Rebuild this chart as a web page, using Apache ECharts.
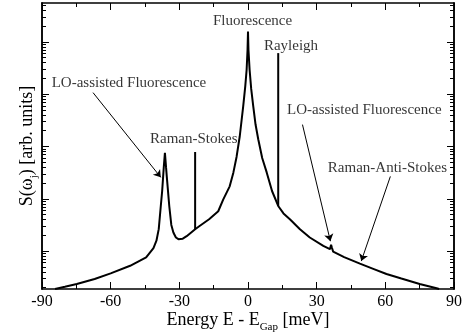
<!DOCTYPE html>
<html><head><meta charset="utf-8">
<script src="https://cdn.jsdelivr.net/npm/echarts@6/dist/echarts.min.js"></script>
<style>html,body{margin:0;padding:0;background:#fff}#c{width:466px;height:334px}</style>
</head><body><div id="c"></div>
<script>
// Main spectrum: energy (meV) and intensity (arb. units, log axis)
const energy = [-84.3,-80,-74.8,-67,-60,-51.5,-44.5,-41.3,-40,-39,-38.1,-37.5,-36.8,-36.3,-35.8,-35.5,-34.4,-33.5,-32.6,-31.5,-30.4,-28.5,-26.8,-23.1,-21,-17,-13,-10.8,-8,-6.4,-5,-3.6,-2.1,-1.2,-0.6,-0.2,0,0.2,0.7,1.4,2.3,3.3,4.5,6.2,8.2,10.5,13.2,15.5,18.3,22.7,27,32.9,35.8,36.3,36.7,37.2,38,42,48.9,55,60.5,67,75,82.4,83.5];
const intensity = [1.89,2.08,2.35,2.94,3.76,5.25,7.59,11.4,15.8,26.3,72.9,141,398,759,398,272,72.9,31.6,22.7,18.2,16.9,17.3,19.3,26.2,30.6,40.7,57.8,97.7,173,316,631,1570,5860,14100,29300,70800,157000,70800,29300,12600,5860,2630,1360,603,316,141,72.9,52.5,40.7,26.2,18.2,12.6,10.9,13.2,11.5,9.77,9.16,7.69,5.78,4.54,3.65,2.99,2.35,1.95,1.89];
// Sharp Raman-Stokes and Rayleigh lines
const ramanStokesE = [-23.1,-23.1];
const ramanStokesS = [26.2,785];
const rayleighE = [13.2,13.2];
const rayleighS = [72.9,60950];
// Axis ranges and ticks
const xMin = -90, xMax = 90, xStep = 30;
const yMin = 1.888, yMax = 553000;
const yDecades = [1,10,100,1000,10000,100000];
const yMultipliers = [2,3,4,5,6,7,8,9];
const yMajorTicks = [10,100,1000,10000,100000];
// Annotations: [E, S, text]
const annoE = [2.0,18.8,-52,-23.7,50.8,60.9];
const annoS = [254700,81300,16560,1359,5070,381];
const annoText = ['Fluorescence','Rayleigh','LO-assisted Fluorescence','Raman-Stokes','LO-assisted Fluorescence','Raman-Anti-Stokes'];
// Arrows: start and end (E, S)
const arrowStartE = [-67.7,23.8,62.2];
const arrowStartS = [10700,2620,268];
const arrowEndE = [-38.1,36.0,49.5];
const arrowEndS = [257,15.5,6.46];

const yMinorTicks = [];
yDecades.forEach(d => yMultipliers.forEach(m => { const v = d*m; if (v >= yMin && v <= yMax) yMinorTicks.push(v); }));

const FONT = 'Liberation Serif';
const axisLine = {show:true, onZero:false, lineStyle:{color:'#000', width:1.5}};
const xAxisCfg = (pos, labels) => ({
  type:'value', min:xMin, max:xMax, interval:xStep, position:pos,
  axisLine, splitLine:{show:false},
  axisTick:{show:true, inside:true, length:7, lineStyle:{color:'#000', width:1}},
  minorTick:{show:true, splitNumber:2, length:4, lineStyle:{color:'#000', width:1}},
  axisLabel:{show:labels, color:'#000', fontFamily:FONT, fontSize:16, margin:5}
});
const yAxisCfg = (pos, ticks, len) => ({
  type:'log', logBase:10, min:yMin, max:yMax, position:pos,
  axisLine, splitLine:{show:false}, axisLabel:{show:false},
  axisTick:{show:true, inside:true, length:len, customValues:ticks, lineStyle:{color:'#000', width:1}}
});

const xa0 = xAxisCfg('bottom', true);
xa0.name = '{m|Energy E - E}{s|Gap}{m| [meV]}';
xa0.nameLocation = 'middle';
xa0.nameGap = 19;
xa0.nameMoveOverlap = false;
xa0.nameTextStyle = {color:'#000', fontFamily:FONT, rich:{
  m:{fontSize:18, fontFamily:FONT, color:'#000'},
  s:{fontSize:11, fontFamily:FONT, color:'#000', padding:[14,0,0,0]}
}};
const ya0 = yAxisCfg('left', yMajorTicks, 7);
ya0.name = '{m|S(ω}{s|j}{m|) [arb. units]}';
ya0.nameLocation = 'middle';
ya0.nameGap = 2;
ya0.nameRotate = 90;
ya0.nameMoveOverlap = false;
ya0.nameTextStyle = {color:'#000', fontFamily:FONT, rich:{
  m:{fontSize:18, fontFamily:FONT, color:'#000'},
  s:{fontSize:11, fontFamily:FONT, color:'#000', padding:[15,0,0,0]}
}};

const curve = energy.map((e,i) => [e, intensity[i]]);
const rs = ramanStokesE.map((e,i) => [e, ramanStokesS[i]]);
const ry = rayleighE.map((e,i) => [e, rayleighS[i]]);
const annos = annoE.map((e,i) => [e, annoS[i], annoText[i]]);
const arrows = arrowStartE.map((e,i) => [{coord:[e, arrowStartS[i]]},{coord:[arrowEndE[i], arrowEndS[i]]}]);

const chart = echarts.init(document.getElementById('c'), null, {renderer:'canvas'});
chart.setOption({
  backgroundColor:'#fff',
  animation:false,
  grid:{left:42, right:12, top:3, bottom:45, containLabel:false, outerBoundsMode:'none'},
  xAxis:[xa0, xAxisCfg('top', false)],
  yAxis:[ya0, yAxisCfg('left', yMinorTicks, 4), yAxisCfg('right', yMajorTicks, 7), yAxisCfg('right', yMinorTicks, 4)],
  series:[
    {type:'line', data:curve, showSymbol:false, symbol:'none', clip:true,
     lineStyle:{color:'#000', width:2}, silent:true,
     markLine:{silent:true, symbol:['none','arrow'], symbolSize:7, label:{show:false},
       lineStyle:{color:'#000', width:1, type:'solid'}, data:arrows}},
    {type:'line', data:rs, symbol:'none', lineStyle:{color:'#000', width:2}, silent:true},
    {type:'line', data:ry, symbol:'none', lineStyle:{color:'#000', width:2}, silent:true},
    {type:'scatter', data:annos, symbolSize:0, silent:true,
     label:{show:true, position:'inside', formatter:p => p.data[2], color:'#000', fontFamily:FONT, fontSize:15}}
  ]
});
</script></body></html>
